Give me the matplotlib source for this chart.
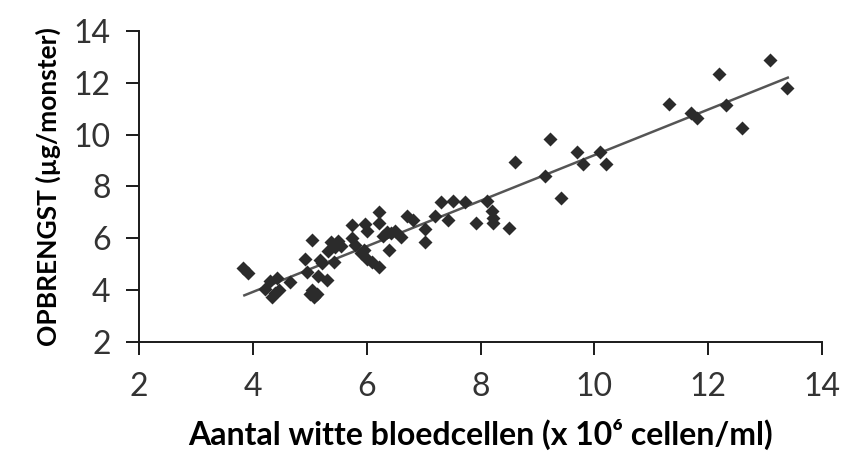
import matplotlib
matplotlib.use("Agg")
import matplotlib.pyplot as plt

# white blood cell count (x 10^6 cells/ml) vs yield (ug/sample)
cells = [3.83, 3.92,
         4.21, 4.30, 4.34, 4.38, 4.42, 4.45, 4.65,
         4.92, 4.95, 5.03, 5.00, 5.04, 5.08, 5.13, 5.15, 5.18, 5.22, 5.30,
         5.32, 5.38, 5.42, 5.45, 5.50, 5.55,
         5.74, 5.74, 5.80, 5.90, 5.97, 6.00, 5.95, 6.00, 6.10, 6.22,
         6.22, 6.22, 6.28, 6.35, 6.42, 6.50, 6.60, 6.40, 6.70, 6.82,
         7.03, 7.03, 7.20, 7.31, 7.43, 7.52, 7.73, 7.92, 8.11, 8.20, 8.22, 8.22, 8.50,
         8.60, 9.14, 9.22, 9.42, 9.70, 9.80, 10.10, 10.20,
         11.31, 11.70, 11.81, 12.19, 12.32, 12.60, 13.09, 13.39]
yield_ug = [4.85, 4.65,
            4.05, 4.35, 3.72, 3.90, 4.45, 4.00, 4.30,
            5.20, 4.70, 5.95, 3.85, 4.00, 3.75, 3.85, 4.55, 5.15, 5.05, 4.40,
            5.50, 5.85, 5.10, 5.65, 5.90, 5.70,
            6.50, 6.00, 5.75, 5.45, 6.55, 6.30, 5.55, 5.20, 5.10, 4.90,
            7.00, 6.60, 6.10, 6.25, 6.20, 6.30, 6.05, 5.55, 6.85, 6.70,
            6.35, 5.85, 6.85, 7.40, 6.70, 7.45, 7.40, 6.60, 7.45, 7.05, 6.80, 6.60, 6.40,
            8.95, 8.40, 9.85, 7.55, 9.35, 8.85, 9.35, 8.85,
            11.20, 10.85, 10.65, 12.35, 11.15, 10.25, 12.90, 11.80]

# trend line end points as drawn
trend_x = [3.85, 13.40]
trend_y = [3.80, 12.20]

ticks = [2, 4, 6, 8, 10, 12, 14]

plt.rcParams['font.family'] = ['Lato', 'DejaVu Sans']

fig = plt.figure(figsize=(8.43, 4.58), dpi=100)
ax = fig.add_axes([0.165, 0.2533, 0.81, 0.679])

ax.plot(trend_x, trend_y, color='#555555', lw=1.8, zorder=2)
ax.plot(cells, yield_ug, 'D', color='#2b2b2b', ms=7, mec='none', zorder=3)

ax.set_xlim(2, 14)
ax.set_ylim(2, 14)
ax.set_xticks(ticks)
ax.set_yticks(ticks)

for s in ['top', 'right']:
    ax.spines[s].set_visible(False)
for s in ['left', 'bottom']:
    ax.spines[s].set_linewidth(1.4)
    ax.spines[s].set_color('#1a1a1a')

ax.tick_params(direction='out', length=9.5, width=1.4, color='#1a1a1a',
               labelsize=23, labelcolor='#333333')
ax.tick_params(axis='y', pad=11)
ax.tick_params(axis='x', pad=12)

ax.set_xlabel('Aantal witte bloedcellen (x 10⁶ cellen/ml)', fontsize=23,
              fontweight='bold', labelpad=12)
ax.set_ylabel('OPBRENGST (µg/monster)', fontsize=19, fontweight='bold', labelpad=9)

fig.savefig('out.png', dpi=100, facecolor='white')
